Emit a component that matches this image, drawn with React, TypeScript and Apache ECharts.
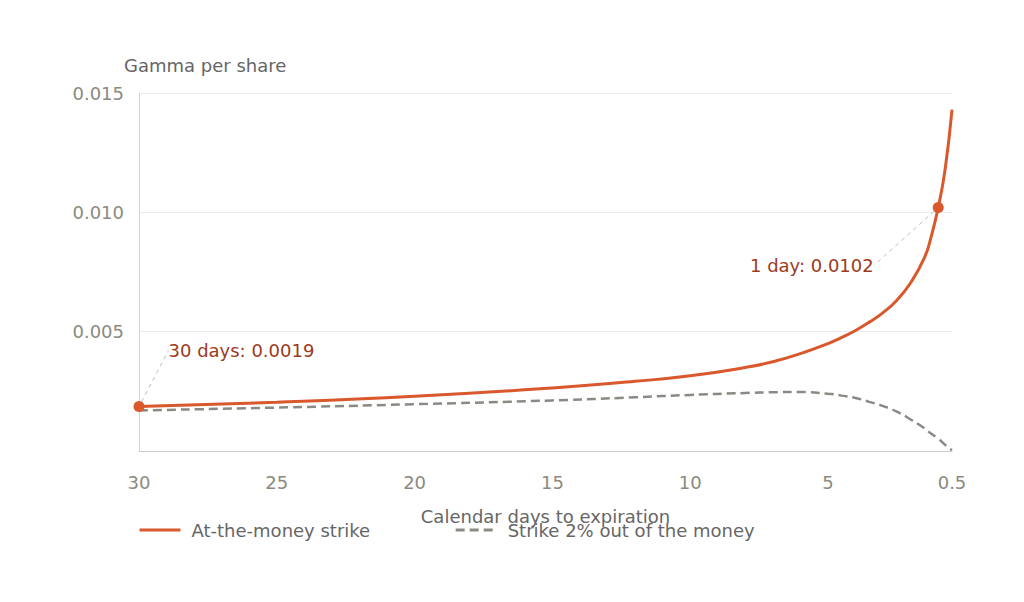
import React, { useEffect, useRef } from "react";
import * as echarts from "echarts";

const days = [30, 25, 20, 15, 12, 10, 8, 7, 6, 5, 4.5, 4, 3.5, 3, 2.5, 2, 1.5, 1.25, 1, 0.75, 0.5];
const atmGamma = [0.00186, 0.00204, 0.00229, 0.00264, 0.00292, 0.00315, 0.0035, 0.00374, 0.00408, 0.0045, 0.00476, 0.00505, 0.0054, 0.0058, 0.00632, 0.00705, 0.0081, 0.009, 0.0102, 0.0118, 0.0143];
const otmGamma = [0.0017, 0.00182, 0.00196, 0.00212, 0.00225, 0.00235, 0.00243, 0.00246, 0.00247, 0.0024, 0.00232, 0.00222, 0.00206, 0.00188, 0.00165, 0.00132, 0.00095, 0.00072, 0.00052, 0.00026, 0.00003];
const xTickLabels = [30, 25, 20, 15, 10, 5, 0.5];
const annotatedDays = [30, 1];
const seriesNames = ["At-the-money strike", "Strike 2% out of the money"];

const ORANGE = "#d9582c";
const GRAY = "#8a8a84";
const FONT = "DejaVu Sans";

export default function App() {
  const ref = useRef<HTMLDivElement>(null);
  useEffect(() => {
    if (!ref.current) return;
    const chart = echarts.init(ref.current, null, { renderer: "svg" });
    const atmData = days.map((d, i) => [d, atmGamma[i]]);
    const otmData = days.map((d, i) => [d, otmGamma[i]]);
    const markers = annotatedDays.map((d, k) => {
      const i = days.indexOf(d);
      return {
        value: [d, atmGamma[i]],
        label: {
          show: true,
          position: k === 0 ? "right" : "left",
          distance: 5,
        },
      };
    });
    chart.setOption({
      animation: false,
      textStyle: { fontFamily: FONT },
      grid: { left: 139, right: 72, top: 93, bottom: 151 },
      xAxis: {
        type: "value",
        inverse: true,
        min: 0.5,
        max: 30,
        name: "Calendar days to expiration",
        nameLocation: "middle",
        nameGap: 56,
        nameTextStyle: { color: "#666", fontSize: 18, fontFamily: FONT },
        axisLine: { show: true, lineStyle: { color: "#cccccc", width: 1 } },
        axisTick: { show: false },
        splitLine: { show: false },
        axisLabel: {
          customValues: xTickLabels,
          color: "#8a8a80",
          fontSize: 18,
          margin: 22,
          fontFamily: FONT,
          formatter: (v: number) => String(v),
        },
      },
      yAxis: {
        type: "value",
        min: 0,
        max: 0.015,
        interval: 0.005,
        name: "Gamma per share",
        nameLocation: "end",
        nameGap: 19,
        nameTextStyle: { color: "#666", fontSize: 18, align: "left", padding: [0, 0, 0, -15], fontFamily: FONT },
        axisLine: { show: true, lineStyle: { color: "#d6d6d6", width: 1 } },
        axisTick: { show: false },
        splitLine: { show: true, lineStyle: { color: "#ebebeb", width: 1 } },
        axisLabel: {
          color: "#8a8a80",
          fontSize: 18,
          margin: 15,
          fontFamily: FONT,
          formatter: (v: number) => (v === 0 ? "" : v.toFixed(3)),
        },
      },
      legend: {
        left: 133,
        top: 516,
        itemWidth: 41,
        itemHeight: 14,
        itemGap: 84,
        itemStyle: { opacity: 0 },
        lineStyle: { width: 3 },
        textStyle: { color: "#666", fontSize: 18, fontFamily: FONT, padding: [0, 0, 0, 6] },
        data: seriesNames,
      },
      series: [
        {
          name: seriesNames[0],
          type: "line",
          data: atmData,
          smooth: 0.5,
          symbol: "none",
          lineStyle: { color: ORANGE, width: 3 },
          itemStyle: { color: ORANGE },
          z: 3,
        },
        {
          name: seriesNames[1],
          type: "line",
          data: otmData,
          smooth: 0.5,
          symbol: "none",
          lineStyle: { color: GRAY, width: 2.5, type: [9, 5] },
          itemStyle: { color: GRAY },
          z: 2,
        },
        {
          name: "markers",
          type: "scatter",
          data: markers,
          symbol: "circle",
          symbolSize: 11,
          itemStyle: { color: ORANGE, opacity: 1 },
          z: 4,
          label: {
            color: "#9c3a1c",
            fontSize: 18,
            fontFamily: FONT,
            formatter: (p: any) => {
              const d = p.value[0];
              return `${d} ${d === 1 ? "day" : "days"}: ${p.value[1].toFixed(4)}`;
            },
          },
          labelLine: {
            show: true,
            lineStyle: { color: "#bdbdbd", width: 1, type: [4, 4] },
          },
          labelLayout: (params: any) =>
            params.dataIndex === 0 ? { dx: 19, dy: -56 } : { dx: -54, dy: 58 },
        },
      ],
    });
    return () => chart.dispose();
  }, []);
  return (
    <div
      ref={ref}
      style={{ position: "absolute", left: 0, top: 0, width: 1024, height: 602 }}
    />
  );
}
